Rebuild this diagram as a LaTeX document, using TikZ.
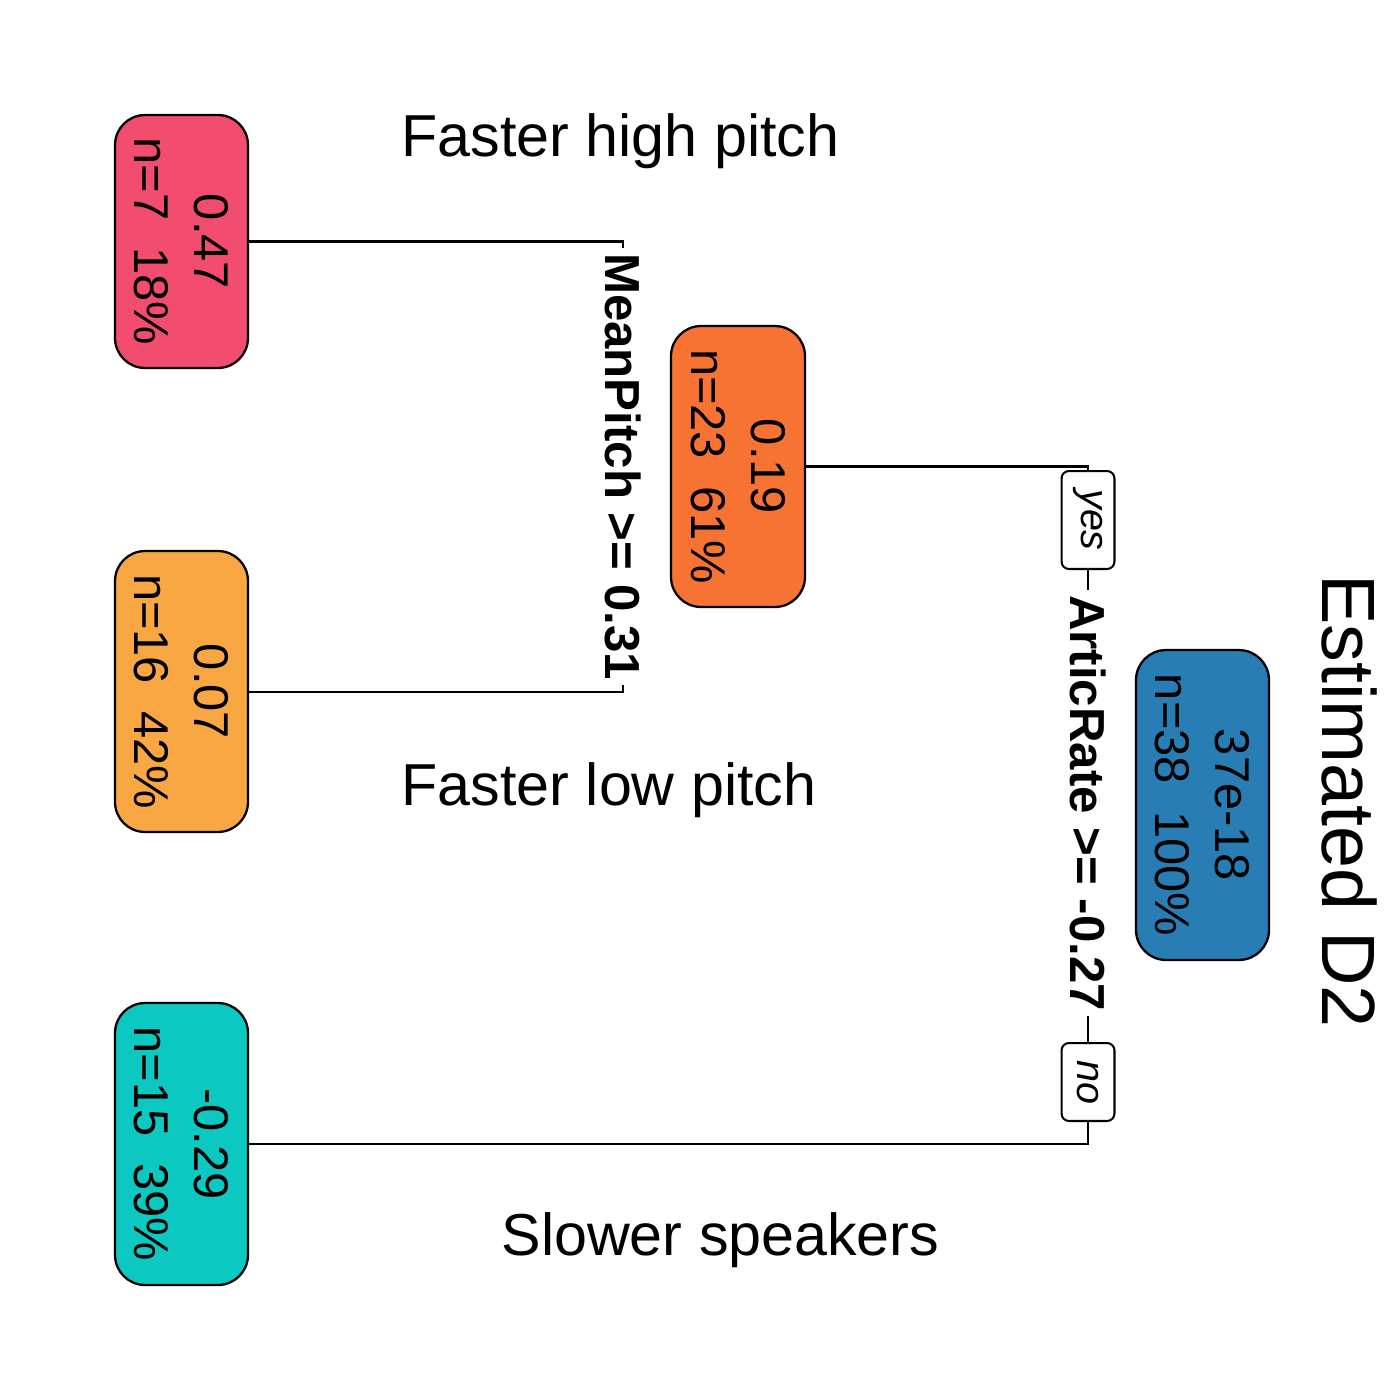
\documentclass[tikz,border=0pt]{standalone}
\usepackage{fontspec}
\setmainfont{Liberation Sans}
\definecolor{cpink}{RGB}{242,76,110}
\definecolor{clorange}{RGB}{249,167,67}
\definecolor{cdorange}{RGB}{247,115,52}
\definecolor{cblue}{RGB}{40,125,180}
\definecolor{cteal}{RGB}{11,201,193}
\begin{document}
\begin{tikzpicture}[x=0.02cm,y=-0.02cm,
  treenode/.style={draw=black,line width=1.3pt,rounded corners=0.6cm,rotate=-90,
    minimum height=2.66cm,inner sep=0pt,align=center,
    font=\fontsize{27.8}{34}\selectfont},
  edge/.style={draw=black,line width=1.15pt},
  splitlabel/.style={rotate=-90,fill=white,inner xsep=3pt,inner ysep=1pt,
    font=\fontsize{28}{34}\selectfont\bfseries},
  yesno/.style={draw=black,fill=white,line width=1.15pt,rounded corners=0.15cm,rotate=-90,
    minimum height=1.06cm,inner sep=0pt,font=\fontsize{22.5}{27}\selectfont\itshape},
  title/.style={anchor=base,font=\fontsize{33.7}{40}\selectfont},
]
\path[use as bounding box] (0,0) rectangle (1400,1400);

% nodes
\node[treenode,fill=cpink,minimum width=5.06cm] (l1) at (181.5,241.5) {0.47\\n=7\ \ 18\%};
\node[treenode,fill=clorange,minimum width=5.62cm] (l2) at (181.5,691.5) {0.07\\n=16\ \ 42\%};
\node[treenode,fill=cteal,minimum width=5.64cm] (l3) at (181.5,1144) {-0.29\\n=15\ \ 39\%};
\node[treenode,fill=cdorange,minimum width=5.62cm,minimum height=2.68cm] (n19) at (738,466.5) {0.19\\n=23\ \ 61\%};
\node[treenode,fill=cblue,minimum width=6.2cm] (root) at (1202.5,805) {37e-18\\n=38\ \ 100\%};

% split positions
\coordinate (s1) at (623,466.5);
\coordinate (s2) at (1088,805);

% connectors
\draw[edge] (l1.north) -| (s1) |- (l2.north);
\draw[edge] (n19.north) -| (s2) |- (l3.north);

% split labels
\node[splitlabel] (m1) at (s1) {MeanPitch >= 0.31};
\node[splitlabel] (m2) at (1088,803) {ArticRate >= -0.27};

% yes / no
\node[yesno,minimum width=1.96cm] (yes) at (1088,520) {yes};
\node[yesno,minimum width=1.56cm] (no) at (1088,1082) {no};

% titles
\node[title] (t1) at (620.5,156) {Faster high pitch};
\node[title] (t2) at (609,805) {Faster low pitch};
\node[title] (t3) at (720.5,1255) {Slower speakers};
\node[rotate=-90,anchor=base,font=\fontsize{43}{50}\selectfont] (est) at (1322,801) {Estimated D2};
\end{tikzpicture}
\end{document}
